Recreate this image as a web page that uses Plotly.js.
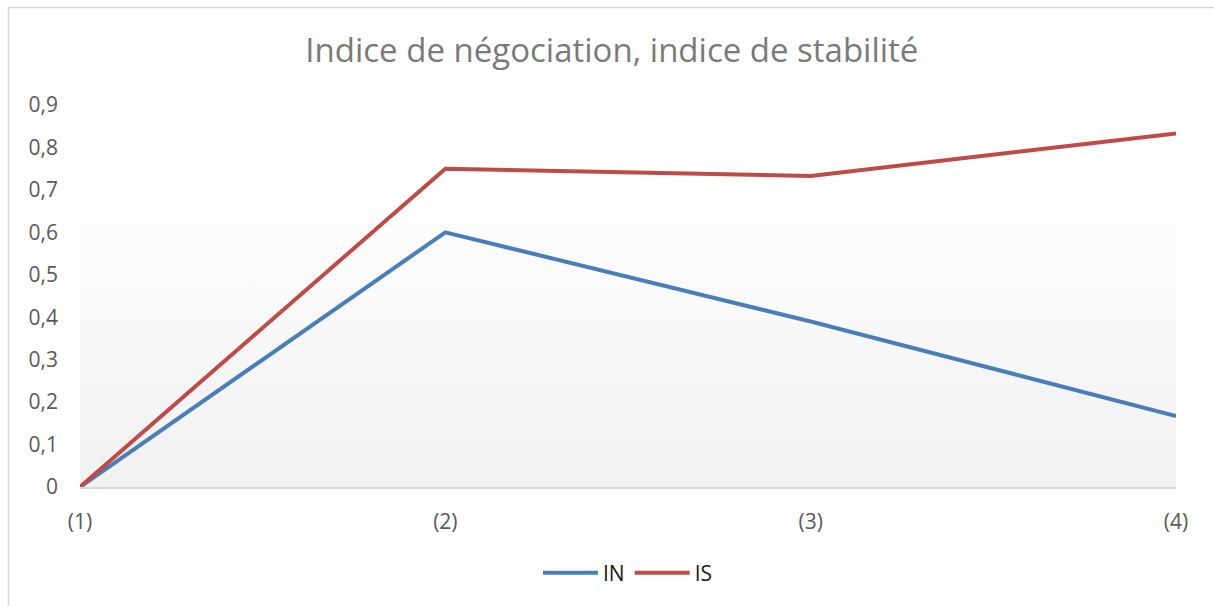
<!DOCTYPE html>
<html>
<head>
<meta charset="utf-8">
<script src="https://cdn.plot.ly/plotly-3.0.1.min.js"></script>
<style>
  html, body { margin: 0; padding: 0; background: #fff; }
  #chart { width: 1214px; height: 606px; }
</style>
</head>
<body>
<div id="chart"></div>
<script>
const categories = ['(1)', '(2)', '(3)', '(4)'];
const seriesIN = [0, 0.6, 0.39, 0.167];
const seriesIS = [0, 0.75, 0.733, 0.833];
const seriesNames = ['IN', 'IS'];
const titleText = 'Indice de négociation, indice de stabilité';

const gradSvg = '<svg xmlns="http://www.w3.org/2000/svg" width="10" height="100" preserveAspectRatio="none">' +
  '<defs><linearGradient id="g" x1="0" y1="0" x2="0" y2="1">' +
  '<stop offset="0" stop-color="#fefefe"/><stop offset="1" stop-color="#f1f1f1"/></linearGradient></defs>' +
  '<rect width="10" height="100" fill="url(#g)"/></svg>';
const gradUri = 'data:image/svg+xml;base64,' + btoa(gradSvg);

const font = "'Open Sans', 'Noto Sans', sans-serif";

const traces = [
  {
    x: categories, y: seriesIN, name: seriesNames[0], type: 'scatter', mode: 'lines',
    line: { color: '#4a7ebb', width: 4 }
  },
  {
    x: categories, y: seriesIS, name: seriesNames[1], type: 'scatter', mode: 'lines',
    line: { color: '#be4b48', width: 4 }
  }
];

const L = 80, R = 1176, T = 105, B = 487;
const W = R - L, H = B - T;
const px = v => (v - L) / W;
const py = v => (B - v) / H;

const layout = {
  width: 1214, height: 606,
  margin: { l: L, r: 1214 - R, t: T, b: 606 - B, pad: 0 },
  paper_bgcolor: '#ffffff',
  plot_bgcolor: 'rgba(0,0,0,0)',
  separators: ', ',
  showlegend: true,
  title: {
    text: titleText,
    font: { family: font, size: 33, color: '#7a7a7a' },
    xref: 'container', yref: 'container',
    x: 0.504, xanchor: 'center', y: 1 - 50 / 606, yanchor: 'middle'
  },
  xaxis: {
    type: 'category',
    range: [0, 3],
    showgrid: false, zeroline: false,
    showline: true, linecolor: '#d9d9d9', linewidth: 1.5,
    ticks: '', ticklabelstandoff: 15,
    tickfont: { family: font, size: 21, color: '#595959' },
    fixedrange: true
  },
  yaxis: {
    range: [0, 0.9],
    tickmode: 'linear', tick0: 0, dtick: 0.1,
    showgrid: false, zeroline: false, showline: false,
    ticks: '', ticklabelstandoff: 21,
    tickfont: { family: font, size: 21, color: '#595959' },
    fixedrange: true
  },
  legend: {
    orientation: 'h',
    x: 0.5, xanchor: 'center',
    y: py(573), yanchor: 'middle',
    font: { family: font, size: 21, color: '#1a1a1a' },
    itemwidth: 55,
    traceorder: 'normal',
    bgcolor: 'rgba(0,0,0,0)'
  },
  images: [{
    source: gradUri,
    xref: 'paper', yref: 'paper',
    x: 0, y: py(197), sizex: 1, sizey: py(197),
    xanchor: 'left', yanchor: 'top',
    sizing: 'stretch', layer: 'below'
  }],
  shapes: [
    { type: 'line', xref: 'paper', yref: 'paper', x0: px(8), x1: px(1214), y0: py(7.5), y1: py(7.5),
      line: { color: '#d9d9d9', width: 1.5 } },
    { type: 'line', xref: 'paper', yref: 'paper', x0: px(8.5), x1: px(8.5), y0: py(7.5), y1: py(606),
      line: { color: '#d9d9d9', width: 1.5 } }
  ]
};

Plotly.newPlot('chart', traces, layout, { staticPlot: true, displayModeBar: false });
</script>
</body>
</html>
